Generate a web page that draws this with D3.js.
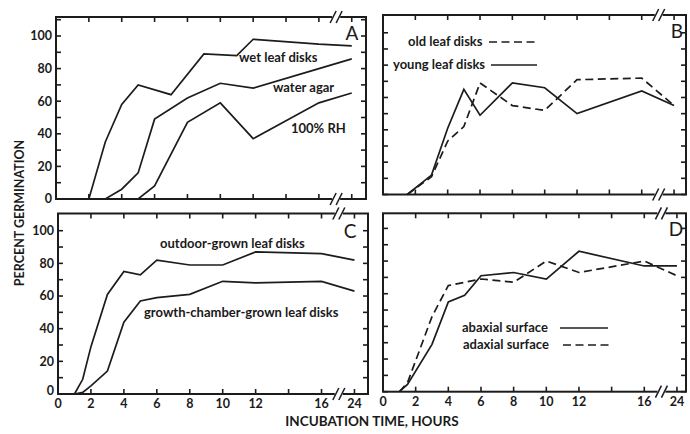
<!DOCTYPE html>
<html>
<head>
<meta charset="utf-8">
<script src="https://cdn.jsdelivr.net/npm/d3@7"></script>
<style>
  html, body { margin: 0; padding: 0; background: #fff; }
  svg { display: block; }
  text { font-family: Lato, "DejaVu Sans", sans-serif; fill: #1a1a1a; }
</style>
</head>
<body>
<svg id="chart" width="690" height="434"></svg>
<script>
// Germination (%) against incubation time (hours); 24 h sits after an axis break.
const hourTicks = [2, 4, 6, 8, 10, 12, 14, 16, 24];
const hourLabels = [0, 2, 4, 6, 8, 10, 12, 16, 24];
const pctTicks = [0, 10, 20, 30, 40, 50, 60, 70, 80, 90, 100, 110];
const pctLabels = [0, 20, 40, 60, 80, 100];

// Panel A
const hoursWet = [1.5, 2, 3, 4, 5, 7, 9, 11, 12, 16, 24];
const wetLeafDisks = [0, 0, 35, 58, 70, 64, 89, 88, 98, 95, 94];
const hoursAgar = [1.5, 3, 4, 5, 6, 8, 10, 12, 16, 24];
const waterAgar = [0, 0, 6, 16, 49, 62, 71, 68, 80, 86];
const hoursRH = [1.5, 5, 6, 8, 10, 12, 16, 24];
const rh100 = [0, 0, 8, 47, 59, 37, 59, 65];

// Panel B
const hoursB = [1.5, 3, 4, 5, 6, 8, 10, 12, 16, 24];
const youngLeafDisks = [0, 12, 41, 65, 49, 69, 66, 50, 64, 55];
const oldLeafDisks = [0, 11, 33, 42, 69, 55, 52, 71, 72, 55];

// Panel C
const hoursC = [1, 1.5, 2, 3, 4, 5, 6, 8, 10, 12, 16, 24];
const outdoorGrown = [0, 9, 29, 61, 75, 73, 82, 79, 79, 87, 86, 82];
const chamberGrown = [0, 1, 5, 14, 44, 57, 59, 61, 69, 68, 69, 63];

// Panel D
const hoursAb = [1, 1.5, 3, 4, 5, 6, 8, 10, 12, 16, 24];
const abaxial = [0, 4.5, 29, 55, 59, 71, 73, 69, 86, 77, 77];
const hoursAd = [1, 1.5, 3, 4, 6, 8, 10, 12, 16, 24];
const adaxial = [0, 5.5, 46, 65, 69, 67, 80, 73, 80, 71];

// hours -> position on the broken axis (24 h drawn two hours past 16 h)
const hourPos = h => (h <= 16 ? h : 18);

const svg = d3.select("#chart");
const INK = "#1c1c1c";
const DASH = "8,4.5";

const layout = {
  A: { left: 56, right: 366, top: 17, bottom: 199, pph: 16.43, ppu: 1.63, yLabels: true, xLabels: false, letter: [352, 33] },
  B: { left: 383, right: 686, top: 15, bottom: 194.5, pph: 16.17, ppu: 1.617, yLabels: false, xLabels: false, letter: [677, 31] },
  C: { left: 58, right: 368, top: 213.5, bottom: 394, pph: 16.47, ppu: 1.633, yLabels: true, xLabels: true, letter: [350, 231] },
  D: { left: 383, right: 686, top: 213.3, bottom: 391.7, pph: 16.33, ppu: 1.633, yLabels: false, xLabels: true, letter: [676, 229] }
};

function drawPanel(name, series, notes) {
  const p = layout[name];
  const x = d3.scaleLinear().domain([0, (p.right - p.left) / p.pph]).range([p.left, p.right]);
  const y = d3.scaleLinear().domain([0, (p.bottom - p.top) / p.ppu]).range([p.bottom, p.top]);
  const g = svg.append("g");
  const tl = 5;

  // frame
  g.append("rect").attr("x", p.left).attr("y", p.top)
    .attr("width", p.right - p.left).attr("height", p.bottom - p.top)
    .attr("fill", "none").attr("stroke", INK).attr("stroke-width", 2);

  // inward ticks on all four sides
  const yt = pctTicks.filter(v => y(v) >= p.top + 2);
  yt.forEach(v => {
    g.append("line").attr("x1", p.left).attr("x2", p.left + tl).attr("y1", y(v)).attr("y2", y(v))
      .attr("stroke", INK).attr("stroke-width", 1.6);
    g.append("line").attr("x1", p.right).attr("x2", p.right - tl).attr("y1", y(v)).attr("y2", y(v))
      .attr("stroke", INK).attr("stroke-width", 1.6);
  });
  hourTicks.forEach(h => {
    const xv = x(hourPos(h));
    g.append("line").attr("x1", xv).attr("x2", xv).attr("y1", p.top).attr("y2", p.top + tl)
      .attr("stroke", INK).attr("stroke-width", 1.6);
    g.append("line").attr("x1", xv).attr("x2", xv).attr("y1", p.bottom).attr("y2", p.bottom - tl)
      .attr("stroke", INK).attr("stroke-width", 1.6);
  });

  // axis breaks between 16 and 24 h
  const bx = x(17.05);
  [p.top, p.bottom].forEach(by => {
    g.append("rect").attr("x", bx - 4).attr("y", by - 2).attr("width", 8).attr("height", 4).attr("fill", "#fff");
    [-3, 3].forEach(dx => {
      g.append("line").attr("x1", bx + dx - 3).attr("y1", by + 6).attr("x2", bx + dx + 3).attr("y2", by - 6)
        .attr("stroke", INK).attr("stroke-width", 1.5);
    });
  });

  // tick labels
  if (p.yLabels) {
    pctLabels.forEach(v => {
      g.append("text").attr("x", p.left - 4).attr("y", y(v) + (v === 0 && p.xLabels ? -3 : 0))
        .attr("dy", "0.35em").attr("text-anchor", "end")
        .attr("font-size", 12.5).attr("font-weight", 700).text(v);
    });
  }
  if (p.xLabels) {
    hourLabels.forEach(h => {
      g.append("text").attr("x", x(hourPos(h))).attr("y", p.bottom + 10)
        .attr("dy", "0.35em").attr("text-anchor", "middle")
        .attr("font-size", 12.5).attr("font-weight", 700).text(h);
    });
  }

  // panel letter
  g.append("text").attr("x", p.letter[0]).attr("y", p.letter[1]).attr("dy", "0.36em")
    .attr("text-anchor", "middle").attr("font-size", 19).attr("font-weight", 400).text(name);

  // data lines
  const line = d3.line().x(d => x(hourPos(d[0]))).y(d => y(d[1]));
  series.forEach(s => {
    g.append("path").datum(d3.zip(s.hours, s.values)).attr("d", line)
      .attr("fill", "none").attr("stroke", INK).attr("stroke-width", 1.7)
      .attr("stroke-linejoin", "miter")
      .attr("stroke-dasharray", s.dashed ? DASH : null);
  });

  // labels and legend keys
  notes.forEach(n => {
    g.append("text").attr("x", n.x).attr("y", n.y).attr("dy", "0.35em")
      .attr("text-anchor", "start").attr("font-size", 13).attr("font-weight", 700).text(n.text);
    if (n.key) {
      g.append("line").attr("x1", n.key[0]).attr("x2", n.key[1]).attr("y1", n.y + 1).attr("y2", n.y + 1)
        .attr("stroke", INK).attr("stroke-width", 1.7)
        .attr("stroke-dasharray", n.dashed ? DASH : null);
    }
  });
}

drawPanel("A", [
  { hours: hoursWet, values: wetLeafDisks },
  { hours: hoursAgar, values: waterAgar },
  { hours: hoursRH, values: rh100 }
], [
  { text: "wet leaf disks", x: 239, y: 57 },
  { text: "water agar", x: 273, y: 87 },
  { text: "100% RH", x: 291, y: 128 }
]);

drawPanel("B", [
  { hours: hoursB, values: oldLeafDisks, dashed: true },
  { hours: hoursB, values: youngLeafDisks }
], [
  { text: "old leaf disks", x: 408, y: 41, key: [489, 537], dashed: true },
  { text: "young leaf disks", x: 393, y: 64, key: [491, 537] }
]);

drawPanel("C", [
  { hours: hoursC, values: outdoorGrown },
  { hours: hoursC, values: chamberGrown }
], [
  { text: "outdoor-grown leaf disks", x: 160, y: 243 },
  { text: "growth-chamber-grown leaf disks", x: 144, y: 312 }
]);

drawPanel("D", [
  { hours: hoursAb, values: abaxial },
  { hours: hoursAd, values: adaxial, dashed: true }
], [
  { text: "abaxial surface", x: 462, y: 327, key: [560, 608] },
  { text: "adaxial surface", x: 463, y: 344, key: [563, 610], dashed: true }
]);

// axis titles
svg.append("text").attr("x", 372).attr("y", 421).attr("dy", "0.35em").attr("text-anchor", "middle")
  .attr("font-size", 13.5).attr("font-weight", 700).text("INCUBATION TIME, HOURS");
svg.append("text").attr("transform", "translate(20,213) rotate(-90)").attr("dy", "0.35em")
  .attr("text-anchor", "middle").attr("font-size", 12.5).attr("font-weight", 700).text("PERCENT GERMINATION");
</script>
</body>
</html>
